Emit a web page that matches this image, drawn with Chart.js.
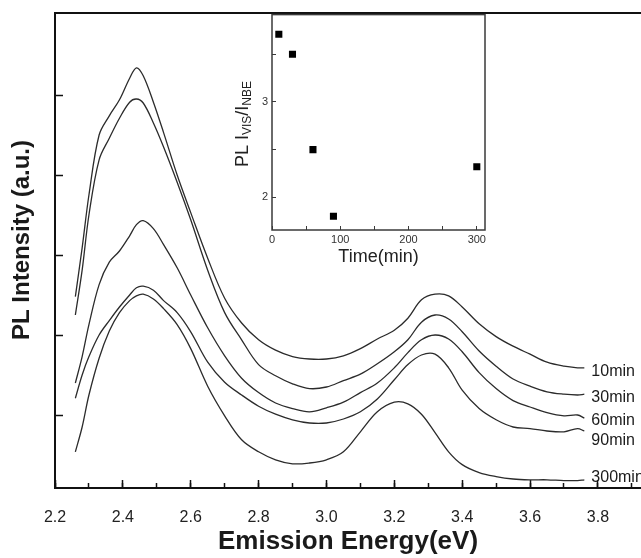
<!DOCTYPE html>
<html>
<head>
<meta charset="utf-8">
<script src="https://cdn.jsdelivr.net/npm/chart.js@4.4.0/dist/chart.umd.min.js"></script>
<style>
html,body{margin:0;padding:0;background:#fff;}
#wrap{position:relative;width:641px;height:558px;}
#main{position:absolute;left:0;top:0;}
#inset{position:absolute;left:200px;top:0;}
</style>
</head>
<body>
<div id="wrap">
<canvas id="main" width="641" height="558"></canvas>
<canvas id="inset" width="300" height="280"></canvas>
</div>
<script>
// PL spectra (a.u.)
const energies = [2.26, 2.28, 2.30, 2.33, 2.36, 2.39, 2.42, 2.44, 2.46, 2.49, 2.52, 2.56, 2.60, 2.65, 2.70, 2.75, 2.80, 2.85, 2.90, 2.95,
                  3.00, 3.05, 3.10, 3.15, 3.20, 3.24, 3.28, 3.32, 3.36, 3.40, 3.45, 3.50, 3.55, 3.60, 3.65, 3.70, 3.74, 3.76];
const seriesNames = ['10min', '30min', '60min', '90min', '300min'];
const pl10 = [2.48, 3.09, 3.75, 4.50, 4.74, 4.94, 5.21, 5.34, 5.24, 4.91, 4.53, 4.00, 3.53, 2.96, 2.46, 2.15, 1.94, 1.81, 1.73, 1.70,
              1.70, 1.74, 1.83, 1.95, 2.06, 2.21, 2.44, 2.51, 2.49, 2.35, 2.14, 1.98, 1.86, 1.76, 1.66, 1.61, 1.59, 1.59];
const pl30 = [2.25, 2.81, 3.50, 4.19, 4.46, 4.71, 4.91, 4.95, 4.90, 4.65, 4.35, 3.91, 3.44, 2.81, 2.28, 1.94, 1.63, 1.49, 1.39, 1.33,
              1.35, 1.43, 1.51, 1.64, 1.79, 1.94, 2.16, 2.25, 2.20, 2.04, 1.80, 1.61, 1.45, 1.36, 1.29, 1.26, 1.25, 1.26];
const pl60 = [1.40, 1.73, 2.13, 2.63, 2.91, 3.05, 3.24, 3.38, 3.43, 3.33, 3.13, 2.84, 2.50, 2.09, 1.74, 1.46, 1.28, 1.15, 1.08, 1.04,
              1.09, 1.16, 1.28, 1.40, 1.59, 1.78, 1.94, 2.00, 1.95, 1.79, 1.53, 1.33, 1.18, 1.10, 1.03, 0.99, 1.00, 0.96];
const pl90 = [1.21, 1.50, 1.73, 2.00, 2.18, 2.35, 2.50, 2.59, 2.61, 2.56, 2.43, 2.28, 2.04, 1.66, 1.41, 1.25, 1.11, 1.01, 0.94, 0.90,
              0.90, 0.95, 1.04, 1.20, 1.44, 1.63, 1.75, 1.76, 1.59, 1.31, 1.08, 0.94, 0.85, 0.83, 0.80, 0.79, 0.83, 0.80];
const pl300 = [0.54, 0.85, 1.25, 1.71, 2.05, 2.28, 2.43, 2.49, 2.51, 2.45, 2.33, 2.13, 1.83, 1.36, 0.99, 0.69, 0.54, 0.44, 0.39, 0.40,
               0.44, 0.54, 0.79, 1.04, 1.16, 1.14, 1.01, 0.78, 0.54, 0.38, 0.28, 0.23, 0.20, 0.19, 0.19, 0.18, 0.18, 0.19];

// inset: PL I_VIS/I_NBE vs time
const times = [10, 30, 60, 90, 300];
const ratios = [3.71, 3.50, 2.50, 1.80, 2.32];

const fam = '"Liberation Sans", Arial, sans-serif';
const ink = '#1a1a1a';

const allSeries = [pl10, pl30, pl60, pl90, pl300];
const sets = allSeries.map((vals, k) => ({
  label: seriesNames[k],
  data: energies.map((e, i) => ({x: e, y: vals[i]})),
  borderColor: '#2b2b2b',
  borderWidth: 1.3,
  pointRadius: 0,
  fill: false,
  tension: 0.35
}));

// label nudges (px) so names sit where the figure has them
const labelDy = [4, 3, 2, 10, -2];

const mainDeco = {
  id: 'mainDeco',
  afterDraw(chart) {
    const ctx = chart.ctx, a = chart.chartArea;
    const xs = chart.scales.x, ys = chart.scales.y;
    ctx.save();
    // top frame
    ctx.strokeStyle = '#111';
    ctx.lineWidth = 2;
    ctx.beginPath();
    ctx.moveTo(a.left - 1, a.top);
    ctx.lineTo(a.right, a.top);
    ctx.stroke();
    // curve names
    ctx.font = '16px ' + fam;
    ctx.fillStyle = ink;
    ctx.textBaseline = 'middle';
    ctx.textAlign = 'left';
    chart.data.datasets.forEach((ds, i) => {
      const last = ds.data[ds.data.length - 1];
      ctx.fillText(ds.label, xs.getPixelForValue(last.x) + 7, ys.getPixelForValue(last.y) + labelDy[i]);
    });
    // y title
    ctx.translate(22, 240);
    ctx.rotate(-Math.PI / 2);
    ctx.font = 'bold 24px ' + fam;
    ctx.textAlign = 'center';
    ctx.fillText('PL Intensity (a.u.)', 0, 0);
    ctx.restore();
  }
};

new Chart(document.getElementById('main'), {
  type: 'line',
  data: {datasets: sets},
  options: {
    responsive: false,
    animation: false,
    devicePixelRatio: 1,
    layout: {padding: {top: 13, left: 0, right: 0, bottom: 0}},
    plugins: {legend: {display: false}, tooltip: {enabled: false}},
    scales: {
      x: {
        type: 'linear', position: 'bottom', min: 2.2, max: 3.927, weight: 1,
        afterFit(s) { s.height = 70; },
        ticks: {stepSize: 0.2, includeBounds: false, autoSkip: false, maxRotation: 0, padding: 28,
                color: '#222', font: {size: 16, family: fam}, callback: v => v.toFixed(1)},
        grid: {drawOnChartArea: false, drawTicks: true, tickLength: -8, tickWidth: 1.5, tickColor: '#111'},
        border: {display: true, color: '#111', width: 2},
        title: {display: true, text: 'Emission Energy(eV)', color: ink,
                font: {size: 26, weight: 'bold', family: fam}, padding: {top: 0, bottom: 1}}
      },
      xMinor: {
        type: 'linear', axis: 'x', position: 'bottom', min: 2.2, max: 3.927, weight: 0,
        afterFit(s) { s.height = 0; },
        ticks: {display: false, stepSize: 0.1, includeBounds: false},
        grid: {drawOnChartArea: false, drawTicks: true, tickLength: -5, tickWidth: 1.5, tickColor: '#111'},
        border: {display: false}
      },
      y: {
        type: 'linear', min: 0.0875, max: 6.025,
        afterFit(s) { s.width = 55; },
        afterBuildTicks(s) { s.ticks = s.ticks.filter(t => t.value >= 1 && t.value <= 5); },
        ticks: {display: false, stepSize: 1, includeBounds: false},
        grid: {drawOnChartArea: false, drawTicks: true, tickLength: -8, tickWidth: 1.5, tickColor: '#111'},
        border: {display: true, color: '#111', width: 2}
      }
    }
  },
  plugins: [mainDeco]
});

// inset
const insetDeco = {
  id: 'insetDeco',
  afterDraw(chart) {
    const ctx = chart.ctx, a = chart.chartArea;
    ctx.save();
    ctx.strokeStyle = '#3a3a3a';
    ctx.lineWidth = 1.5;
    ctx.strokeRect(a.left, a.top, a.right - a.left, a.bottom - a.top);
    // y title with subscripts
    const parts = [['PL I', 18, 0], ['VIS', 12, 5], ['/I', 18, 0], ['NBE', 12, 5]];
    let total = 0;
    parts.forEach(p => { ctx.font = p[1] + 'px ' + fam; total += ctx.measureText(p[0]).width; });
    ctx.translate(43, 124);
    ctx.rotate(-Math.PI / 2);
    ctx.fillStyle = '#222';
    ctx.textBaseline = 'middle';
    ctx.textAlign = 'left';
    let x = -total / 2;
    parts.forEach(p => {
      ctx.font = p[1] + 'px ' + fam;
      ctx.fillText(p[0], x, p[2]);
      x += ctx.measureText(p[0]).width;
    });
    ctx.restore();
  }
};

new Chart(document.getElementById('inset'), {
  type: 'scatter',
  data: {
    datasets: [{
      data: times.map((t, i) => ({x: t, y: ratios[i]})),
      pointStyle: 'rect',
      pointRadius: 5,
      backgroundColor: '#000',
      borderWidth: 0
    }]
  },
  options: {
    responsive: false,
    animation: false,
    devicePixelRatio: 1,
    layout: {padding: {top: 13, right: 15, left: 0, bottom: 0}},
    plugins: {legend: {display: false}, tooltip: {enabled: false}},
    scales: {
      x: {
        type: 'linear', min: 0, max: 312,
        afterFit(s) { s.height = 50; },
        ticks: {stepSize: 50, includeBounds: false, autoSkip: false, maxRotation: 0, padding: 7,
                color: '#333', font: {size: 11, family: fam}, callback: v => (v % 100 === 0 ? v : '')},
        grid: {drawOnChartArea: false, drawTicks: true, tickLength: -4, tickWidth: 1, tickColor: '#3a3a3a'},
        border: {display: false},
        title: {display: true, text: 'Time(min)', color: '#222',
                font: {size: 18, family: fam}, padding: {top: 0, bottom: 12}}
      },
      y: {
        type: 'linear', min: 1.656, max: 3.917,
        afterFit(s) { s.width = 72; },
        ticks: {stepSize: 0.5, includeBounds: false, padding: 8,
                color: '#333', font: {size: 11, family: fam}, callback: v => (Number.isInteger(v) ? v : '')},
        grid: {drawOnChartArea: false, drawTicks: true, tickLength: -4, tickWidth: 1, tickColor: '#3a3a3a'},
        border: {display: false}
      }
    }
  },
  plugins: [insetDeco]
});
</script>
</body>
</html>
